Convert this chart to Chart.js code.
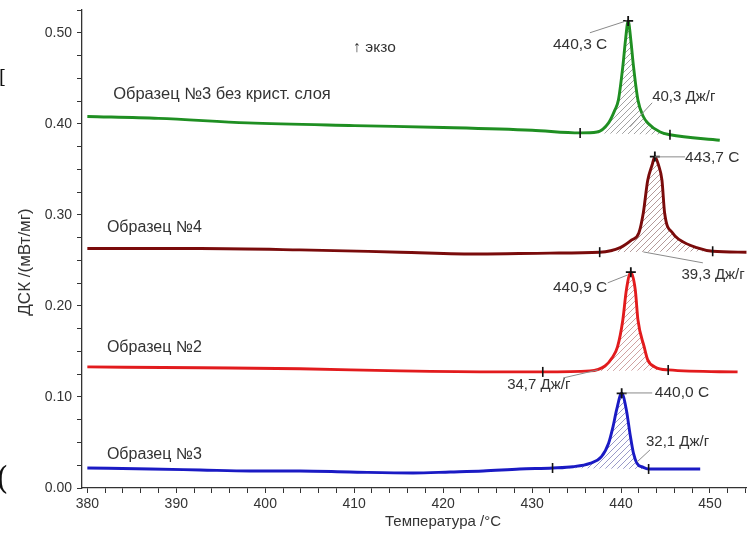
<!DOCTYPE html>
<html lang="ru">
<head>
<meta charset="UTF-8">
<title>ДСК</title>
<script src="https://cdn.jsdelivr.net/npm/chart.js"></script>
<style>
  body { margin: 0; background: #fff; }
  #wrap { position: relative; width: 747px; height: 533px; overflow: hidden; }
  .edge { position: absolute; font-family: "DejaVu Serif", serif; color: #111; line-height: 1; }
</style>
</head>
<body>
<div id="wrap">
  <canvas id="dsc" width="747" height="533"></canvas>
  <span class="edge" style="left:-1px;top:68px;font-size:18px;">[</span>
  <span class="edge" style="left:-4px;top:462px;font-size:32px;">(</span>
</div>
<script>
// Образец №3 без крист. слоя (зелёная)
const tempGreen = [380, 388, 398, 410, 420, 430, 435.4, 437.3, 438.6, 439.3, 439.7, 440.2, 440.5, 440.8, 441.1, 441.4, 441.9, 442.5, 443.0, 444.4, 445.5, 451.1];
const dscGreen  = [0.408, 0.406, 0.401, 0.398, 0.396, 0.393, 0.390, 0.391, 0.401, 0.415, 0.426, 0.463, 0.492, 0.513, 0.492, 0.463, 0.426, 0.408, 0.401, 0.391, 0.388, 0.382];
const baseGreen = [[435.4, 0.390], [445.5, 0.388]];

// Образец №4 (тёмно-красная)
const tempS4 = [380, 392.7, 403.9, 415.2, 424.1, 432, 437.6, 439.9, 441.2, 442.0, 442.5, 443.0, 443.5, 443.8, 444.2, 444.6, 444.9, 445.8, 446.6, 448.5, 450.3, 454.1];
const dscS4  = [0.263, 0.263, 0.2615, 0.259, 0.257, 0.258, 0.259, 0.264, 0.2725, 0.280, 0.302, 0.338, 0.355, 0.364, 0.355, 0.338, 0.302, 0.280, 0.2725, 0.264, 0.260, 0.259];
const baseS4 = [[437.6, 0.259], [450.3, 0.260]];

// Образец №2 (красная)
const tempS2 = [380, 392.7, 403.9, 415.2, 426.4, 431.2, 436.5, 438.2, 439.0, 439.6, 440.2, 440.6, 441.1, 441.6, 441.9, 442.6, 443.0, 443.8, 445.3, 453.1];
const dscS2  = [0.133, 0.132, 0.131, 0.1286, 0.1275, 0.1275, 0.1286, 0.134, 0.143, 0.155, 0.1846, 0.2176, 0.237, 0.2176, 0.1846, 0.155, 0.1407, 0.133, 0.1297, 0.1275];
const baseS2 = [[431.2, 0.1275], [445.3, 0.1297]];

// Образец №3 (синяя)
const tempS3 = [380, 387.1, 392.7, 398.3, 403.9, 409.5, 416.6, 420.8, 424.5, 428.6, 432.3, 434.6, 436.5, 437.8, 438.6, 439.1, 439.5, 440.07, 440.6, 441.0, 441.4, 441.8, 442.5, 443.1, 448.9];
const dscS3  = [0.022, 0.0209, 0.0198, 0.0187, 0.0187, 0.0176, 0.0165, 0.0176, 0.0187, 0.0209, 0.022, 0.0234, 0.0271, 0.0344, 0.0491, 0.0674, 0.0857, 0.104, 0.0857, 0.060, 0.038, 0.027, 0.0227, 0.0209, 0.0209];
const baseS3 = [[432.3, 0.022], [443.1, 0.0209]];

const xMajorTicks = [380, 390, 400, 410, 420, 430, 440, 450];
const yMajorTicks = [0.0, 0.1, 0.2, 0.3, 0.4, 0.5];

// подписи: текст, положение в координатах графика, размер шрифта
const notes = [
  { text: 'Образец №3 без крист. слоя', x: 382.9, y: 0.432, size: 16.5 },
  { text: 'Образец №4', x: 382.2, y: 0.2857, size: 16 },
  { text: 'Образец №2', x: 382.2, y: 0.1538, size: 16 },
  { text: 'Образец №3', x: 382.2, y: 0.0363, size: 16 },
  { text: '↑ экзо', x: 409.9, y: 0.4835, size: 15.5 },
  { text: '440,3 C', x: 432.35, y: 0.4868, size: 15.5 },
  { text: '40,3 Дж/г', x: 443.5, y: 0.4297, size: 15 },
  { text: '443,7 C', x: 447.2, y: 0.3626, size: 15.5 },
  { text: '39,3 Дж/г', x: 446.8, y: 0.234, size: 15 },
  { text: '440,9 C', x: 432.35, y: 0.2198, size: 15.5 },
  { text: '34,7 Дж/г', x: 427.2, y: 0.1132, size: 15 },
  { text: '440,0 C', x: 443.8, y: 0.1044, size: 15.5 },
  { text: '32,1 Дж/г', x: 442.8, y: 0.0505, size: 15 }
];
const leaders = [
  [436.5, 0.500, 440.65, 0.5132],
  [443.5, 0.4231, 441.0, 0.3967],
  [447.2, 0.3637, 443.8, 0.3637],
  [449.2, 0.2473, 442.5, 0.2593],
  [438.5, 0.2253, 440.75, 0.234],
  [433.5, 0.1209, 437.4, 0.1297],
  [443.5, 0.1044, 440.3, 0.1044],
  [443.25, 0.0418, 441.8, 0.0286]
];

function hatch(color) {
  const c = document.createElement('canvas');
  c.width = 6; c.height = 6;
  const g = c.getContext('2d');
  g.strokeStyle = color;
  g.lineWidth = 1;
  g.beginPath();
  g.moveTo(0, 6); g.lineTo(6, 0);
  g.moveTo(-1, 1); g.lineTo(1, -1);
  g.moveTo(5, 7); g.lineTo(7, 5);
  g.stroke();
  return g.createPattern(c, 'repeat');
}

const datasets = [];
const markers = [];

function addSeries(temps, vals, base, color, hatchColor) {
  const pts = temps.map((t, i) => ({ x: t, y: vals[i] }));
  datasets.push({
    data: pts, borderColor: color, borderWidth: 2.9, pointRadius: 0,
    cubicInterpolationMode: 'monotone', fill: false, order: 1
  });
  const baseIdx = datasets.length;
  datasets.push({
    data: base.map(p => ({ x: p[0], y: p[1] })), borderColor: 'rgba(0,0,0,0)', borderWidth: 0,
    pointStyle: 'line', rotation: 90, pointRadius: 5, pointBorderColor: '#111',
    pointBorderWidth: 1.6, fill: false, order: 0
  });
  datasets.push({
    data: pts.filter(p => p.x >= base[0][0] && p.x <= base[1][0]),
    borderWidth: 0, borderColor: 'rgba(0,0,0,0)', pointRadius: 0,
    cubicInterpolationMode: 'monotone',
    backgroundColor: hatch(hatchColor), fill: { target: baseIdx }, order: 2
  });
  let top = pts[0];
  pts.forEach(p => { if (p.y > top.y) top = p; });
  markers.push(top);
}

addSeries(tempGreen, dscGreen, baseGreen, '#1f8f22', '#a3a3a3');
addSeries(tempS4, dscS4, baseS4, '#7a0b0b', '#b49a9a');
addSeries(tempS2, dscS2, baseS2, '#e21b1d', '#d0a2a2');
addSeries(tempS3, dscS3, baseS3, '#1a1ac4', '#9a9ac8');

datasets.push({
  data: markers, showLine: false, pointStyle: 'cross', pointRadius: 5,
  pointBorderColor: '#111', pointBorderWidth: 1.8, order: -1
});

const xTicks = [];
for (let v = 380; v <= 454; v += 2) xTicks.push(v);
const yTicks = [];
for (let k = 0; k <= 21; k++) yTicks.push(k * 25 / 1000);

const FONT = '"Liberation Sans", Arial, sans-serif';

const labelsPlugin = {
  id: 'dscLabels',
  afterDatasetsDraw(chart) {
    const { ctx, scales: { x, y } } = chart;
    ctx.save();
    ctx.strokeStyle = '#8a8a8a';
    ctx.lineWidth = 1;
    leaders.forEach(l => {
      ctx.beginPath();
      ctx.moveTo(x.getPixelForValue(l[0]), y.getPixelForValue(l[1]));
      ctx.lineTo(x.getPixelForValue(l[2]), y.getPixelForValue(l[3]));
      ctx.stroke();
    });
    ctx.fillStyle = '#333';
    ctx.textBaseline = 'middle';
    ctx.textAlign = 'left';
    notes.forEach(n => {
      ctx.font = n.size + 'px ' + FONT;
      ctx.fillText(n.text, x.getPixelForValue(n.x), y.getPixelForValue(n.y));
    });
    ctx.textAlign = 'center';
    ctx.font = '15px ' + FONT;
    ctx.fillText('Температура /°C', 443, 522);
    ctx.translate(25, 262);
    ctx.rotate(-Math.PI / 2);
    ctx.font = '17px ' + FONT;
    ctx.fillText('ДСК /(мВт/мг)', 0, 0);
    ctx.restore();
  }
};

const tickFont = { family: FONT, size: 14 };

new Chart(document.getElementById('dsc'), {
  type: 'line',
  data: { datasets: datasets },
  plugins: [labelsPlugin],
  options: {
    responsive: false,
    animation: false,
    layout: { autoPadding: false, padding: { top: 10, right: 0, left: 0, bottom: 0 } },
    plugins: { legend: { display: false }, tooltip: { enabled: false } },
    scales: {
      x: {
        type: 'linear', min: 379.4, max: 454.16,
        afterBuildTicks: s => { s.ticks = xTicks.map(v => ({ value: v })); },
        afterFit: s => { s.height = 45; s.paddingLeft = 0; s.paddingRight = 0; },
        ticks: {
          autoSkip: false, maxRotation: 0, color: '#333', font: tickFont, padding: 3,
          callback: v => xMajorTicks.includes(v) ? String(v) : ''
        },
        grid: { drawOnChartArea: false, drawTicks: true, tickLength: 5, color: '#333', tickWidth: 1 },
        border: { color: '#333', width: 1.3 }
      },
      y: {
        type: 'linear', min: 0, max: 0.525,
        afterBuildTicks: s => { s.ticks = yTicks.map(v => ({ value: v })); },
        afterFit: s => { s.width = 82; s.paddingTop = 0; s.paddingBottom = 0; },
        ticks: {
          autoSkip: false, color: '#333', font: tickFont, padding: 5,
          callback: v => yMajorTicks.some(m => Math.abs(m - v) < 1e-6) ? v.toFixed(2) : ''
        },
        grid: { drawOnChartArea: false, drawTicks: true, tickLength: 5, color: '#333', tickWidth: 1 },
        border: { color: '#333', width: 1.3 }
      }
    }
  }
});
</script>
</body>
</html>
